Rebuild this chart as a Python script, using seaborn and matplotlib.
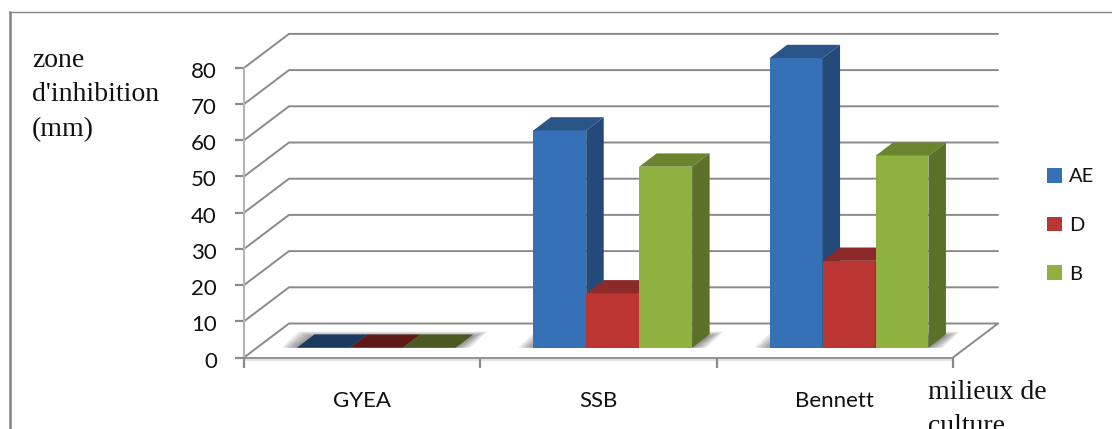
import matplotlib
matplotlib.use("Agg")
import matplotlib.pyplot as plt
import pandas as pd
import seaborn as sns
from matplotlib.lines import Line2D
from matplotlib.patches import Polygon
from matplotlib.transforms import IdentityTransform, ScaledTranslation

categories = ["GYEA", "SSB", "Bennett"]
series_names = ["AE", "D", "B"]
values_ae = [0, 60, 80]
values_d = [0, 15, 24]
values_b = [0, 50, 53]
y_ticks = [0, 10, 20, 30, 40, 50, 60, 70, 80]

front_colors = ["#3670b6", "#bb3633", "#8fb140"]
top_colors = ["#2a5589", "#8b2a28", "#6b852f"]
side_colors = ["#234a78", "#7d2523", "#5b7029"]
flat_colors = ["#1c3a60", "#5f1a18", "#4a5a20"]

W, H = 1112, 429
sns.set_style("white")
plt.rcParams["font.family"] = ["Lato", "DejaVu Sans"]

df = pd.DataFrame({
    "milieu": categories * 3,
    "serie": [s for s in series_names for _ in categories],
    "valeur": values_ae + values_d + values_b,
})

fig = plt.figure(figsize=(W / 100, H / 100), dpi=100, facecolor="white")
ax = fig.add_axes([244 / W, 1 - 357.5 / H, (953 - 244) / W, (357.5 - 67.9) / H])
ax.patch.set_alpha(0)

sns.barplot(data=df, x="milieu", y="valeur", hue="serie", order=categories,
            hue_order=series_names, palette=front_colors, saturation=1,
            width=0.672, errorbar=None, linewidth=0, ax=ax)
ax.set_xlim(-0.5, 2.5)
ax.set_ylim(0, 80)
ax.set_xlabel("")
ax.set_ylabel("")
ax.set_autoscale_on(False)

# axes styling
GRID = "#8a8a8a"
for side in ("top", "right"):
    ax.spines[side].set_visible(False)
ax.spines["left"].set_color("#b4b4b4")
ax.spines["left"].set_linewidth(1.5)
ax.spines["bottom"].set_color(GRID)
ax.spines["bottom"].set_linewidth(1.3)
ax.set_yticks(y_ticks)
ax.tick_params(axis="y", length=6.5, width=1.6, color=GRID, pad=13, labelsize=16,
               labelcolor="#111111", left=True)
ax.tick_params(axis="x", which="major", length=0, pad=24, labelsize=16, labelcolor="#111111")
ax.set_xticks([-0.5, 0.5, 1.5, 2.5], minor=True)
ax.tick_params(axis="x", which="minor", length=7, width=1.6, color=GRID, bottom=True)
nudge = ScaledTranslation(0, -2 / 72 * 72 / 100, fig.dpi_scale_trans)
for lab in ax.get_yticklabels():
    lab.set_transform(lab.get_transform() + nudge)

to_px = ax.transData.transform

# receding walls and floor
BACK_X, BACK_Y = 45, 34
for v in y_ticks:
    (x0, y0), (x1, _) = to_px([(-0.5, v), (2.5, v)])
    ax.add_line(Line2D([x0, x0 + BACK_X, x1 + BACK_X], [y0, y0 + BACK_Y, y0 + BACK_Y],
                       transform=IdentityTransform(), color=GRID, lw=1.4,
                       clip_on=False, zorder=0.5))
(x0, y0), (x1, _) = to_px([(-0.5, 0), (2.5, 0)])
ax.add_line(Line2D([x1, x1 + BACK_X], [y0, y0 + BACK_Y], transform=IdentityTransform(),
                   color=GRID, lw=1.4, clip_on=False, zorder=0.5))
ax.add_line(Line2D([x0, x1], [y0 - 2.2, y0 - 2.2], transform=IdentityTransform(),
                   color="#e4e4e4", lw=1.5, clip_on=False, zorder=0.5))

# 3D extrusion of the bars built from seaborn's own rectangles
SHIFT_X, SHIFT_Y = 14.2, 9.8
DEPTH_X, DEPTH_Y = 17.5, 13.3
bars_by_hue = [list(c) for c in ax.containers]

for g in range(len(categories)):
    first, last = bars_by_hue[0][g], bars_by_hue[-1][g]
    xa = to_px((first.get_x(), 0))[0] + SHIFT_X
    xb = to_px((last.get_x() + last.get_width(), 0))[0] + SHIFT_X
    yb = y0 + SHIFT_Y
    for i in range(7):
        d = i * 2.6
        dy = i * 0.9
        ax.add_patch(Polygon([(xa - 15 + d, yb), (xa + 2 + d, yb + 16 - dy),
                              (xb + 31 - d, yb + 16 - dy), (xb + 14 - d, yb)],
                             closed=True, transform=IdentityTransform(), facecolor="#4a4a4a",
                             edgecolor="none", alpha=0.13, clip_on=False, zorder=1))

for h, bars in enumerate(bars_by_hue):
    for g, bar in enumerate(bars):
        z = 2 + g + h * 0.1
        (xl, yl) = to_px((bar.get_x(), 0))
        (xr, yt) = to_px((bar.get_x() + bar.get_width(), bar.get_height()))
        xl, xr = xl + SHIFT_X, xr + SHIFT_X
        yl, yt = yl + SHIFT_Y, yt + SHIFT_Y
        bar.set_xy(tuple(ax.transData.inverted().transform((xl, yl))))
        bar.set_height(ax.transData.inverted().transform((xl, yt))[1]
                       - ax.transData.inverted().transform((xl, yl))[1])
        bar.set_clip_on(False)
        bar.set_zorder(z)
        is_flat = yt - yl < 0.5
        ax.add_patch(Polygon([(xl, yt), (xr, yt), (xr + DEPTH_X, yt + DEPTH_Y), (xl + DEPTH_X, yt + DEPTH_Y)],
                             closed=True, transform=IdentityTransform(),
                             facecolor=flat_colors[h] if is_flat else top_colors[h],
                             edgecolor="none", clip_on=False, zorder=z + 0.01))
        if not is_flat:
            ax.add_patch(Polygon([(xr, yl), (xr + DEPTH_X, yl + DEPTH_Y), (xr + DEPTH_X, yt + DEPTH_Y), (xr, yt)],
                                 closed=True, transform=IdentityTransform(),
                                 facecolor=side_colors[h], edgecolor="none",
                                 clip_on=False, zorder=z + 0.02))

# legend
handles, labels = ax.get_legend_handles_labels()
ax.legend(handles, labels, loc="upper left", bbox_to_anchor=(1047 / W, 1 - 168 / H),
          bbox_transform=fig.transFigure, frameon=False, fontsize=14.5, borderpad=0,
          borderaxespad=0, handlelength=0.75, handleheight=0.75, handletextpad=0.35,
          labelspacing=1.55, labelcolor="#111111")

# annotations
serif = "Liberation Serif"
fig.text(32 / W, 1 - 48 / H, "zone\nd'inhibition\n(mm)", family=serif, fontsize=20,
         va="top", ha="left", linespacing=1.49, color="#111111")
fig.text(928 / W, 1 - 380 / H, "milieux de\nculture", family=serif, fontsize=20,
         va="top", ha="left", linespacing=1.49, color="#111111")

# outer frame
fig.add_artist(Line2D([9.5 / W, 9.5 / W], [0, 1 - 11.5 / H], color="#888888", lw=1.9))
fig.add_artist(Line2D([9 / W, 1], [1 - 11.5 / H, 1 - 11.5 / H], color="#888888", lw=1.0))

fig.savefig("out.png", dpi=100)
